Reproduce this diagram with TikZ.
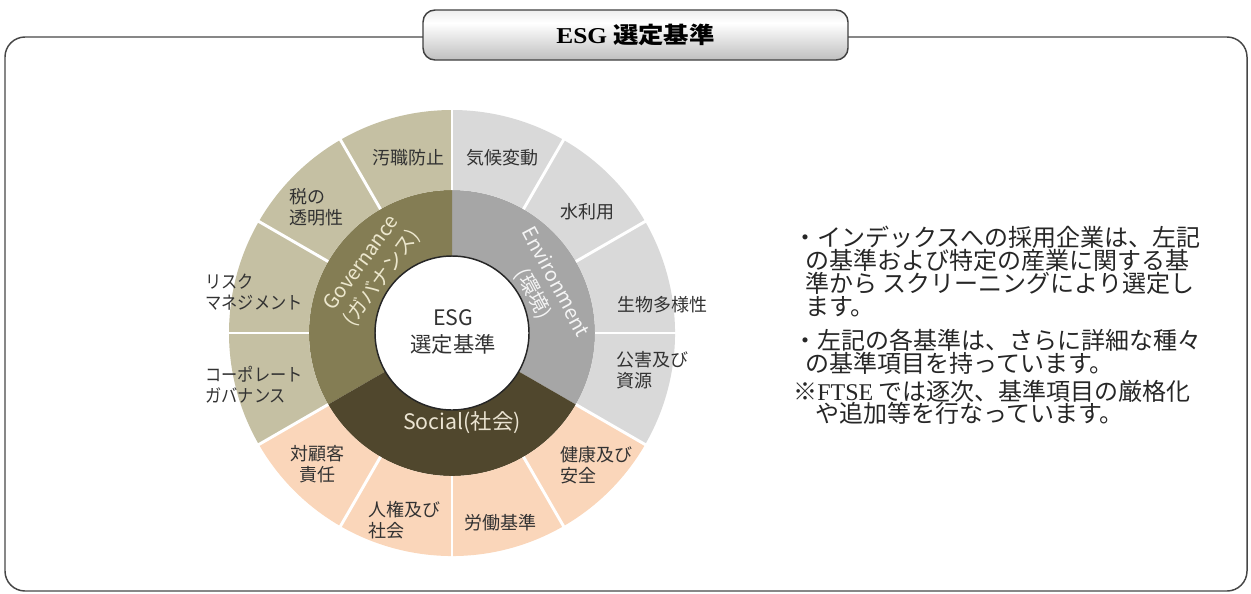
\documentclass[tikz,border=0pt]{standalone}
\usepackage{fontspec}
\setmainfont{Noto Sans CJK JP}
\newfontfamily\serifL{Liberation Serif}
\usetikzlibrary{calc}
\definecolor{framecol}{RGB}{70,70,70}
\definecolor{govM}{RGB}{132,125,84}
\definecolor{govO}{RGB}{197,192,163}
\definecolor{envM}{RGB}{166,166,166}
\definecolor{envO}{RGB}{217,217,217}
\definecolor{socM}{RGB}{80,71,45}
\definecolor{socO}{RGB}{250,214,186}
\definecolor{labcol}{RGB}{50,50,50}
\definecolor{govT}{RGB}{236,231,205}
\definecolor{envT}{RGB}{245,245,245}
\definecolor{socT}{RGB}{235,228,210}
\pgfdeclareverticalshading{titleshade}{100bp}{color(0bp)=(black!55); color(25bp)=(black!25); color(62bp)=(white); color(85bp)=(black!12); color(100bp)=(black!55)}
\tikzset{
  lab/.style={font=\fontsize{13.5pt}{16pt}\selectfont, text=labcol, inner sep=0pt, align=left},
  labc/.style={lab, align=center},
  rtext/.style={font=\fontsize{18pt}{20pt}\selectfont, text=black!85, anchor=west, inner sep=0pt, text height=14pt, text depth=2pt},
  ringtxt/.style={font=\fontsize{15pt}{19pt}\selectfont, inner sep=0pt, align=center},
  divider/.style={white, line width=2.2pt},
}
\begin{document}
\begin{tikzpicture}[x=0.75pt,y=-0.75pt]
\useasboundingbox (0,0) rectangle (1251,593);
% outer frame
\draw[framecol, line width=1.1pt, rounded corners=15pt] (5,37) rectangle (1247,591);
% title
\node[draw=black!75, line width=1.1pt, rounded corners=9pt, shade, shading=titleshade,
      minimum width=318.75pt, minimum height=37.5pt, inner sep=0pt,
      font=\bfseries\fontsize{17pt}{20pt}\selectfont] (title) at (635.5,35)
      {\scalebox{1.12}[1]{{\serifL\bfseries ESG} 選定基準}};
% pie
\begin{scope}[shift={(452,333)}, y=0.75pt]
  % middle ring
  \fill[envM] (-30:77) -- (-30:143) arc[start angle=-30, end angle=90, radius=143] -- (90:77) arc[start angle=90, end angle=-30, radius=77] -- cycle;
  \fill[govM] (90:77) -- (90:143) arc[start angle=90, end angle=210, radius=143] -- (210:77) arc[start angle=210, end angle=90, radius=77] -- cycle;
  \fill[socM] (210:77) -- (210:143) arc[start angle=210, end angle=330, radius=143] -- (330:77) arc[start angle=330, end angle=210, radius=77] -- cycle;
  % outer ring
  \fill[envO] (-30:143) -- (-30:223) arc[start angle=-30, end angle=90, radius=223] -- (90:143) arc[start angle=90, end angle=-30, radius=143] -- cycle;
  \fill[govO] (90:143) -- (90:223) arc[start angle=90, end angle=210, radius=223] -- (210:143) arc[start angle=210, end angle=90, radius=143] -- cycle;
  \fill[socO] (210:143) -- (210:223) arc[start angle=210, end angle=330, radius=223] -- (330:143) arc[start angle=330, end angle=210, radius=143] -- cycle;
  \foreach \a in {0,30,...,330} \draw[divider] (\a:143) -- (\a:225);
  % centre
  \draw[fill=white, draw=black!85, line width=1.1pt] (0,0) circle[radius=77];
  \node[font=\fontsize{16pt}{20pt}\selectfont, text=labcol, align=center, inner sep=0pt] (centre) at (1,1) {ESG\\選定基準};
  \node[ringtxt, text=govT, rotate=54] (gov) at (142:101) {Governance\\(ガバナンス)};
  \node[ringtxt, text=envT, rotate=-62] (env) at (26:102) {Environment\\(環境)};
\end{scope}
\node[font=\fontsize{16pt}{20pt}\selectfont, text=socT, inner sep=0pt] (soc) at (462,423) {Social(社会)};
% outer labels
\node[lab] (l1) at (408,158) {汚職防止};
\node[lab] (l2) at (502,158) {気候変動};
\node[lab] (l3) at (587,212) {水利用};
\node[lab] (l4) at (662,305) {生物多様性};
\node[lab] (l5) at (652,370) {公害及び\\資源};
\node[lab] (l6) at (596,465) {健康及び\\安全};
\node[lab] (l7) at (500,523) {労働基準};
\node[lab] (l8) at (404,520) {人権及び\\社会};
\node[labc] (l9) at (317,464) {対顧客\\責任};
\node[lab, xscale=0.9] (l10) at (254,385) {コーポレート\\ガバナンス};
\node[lab, xscale=0.9] (l11) at (254,292) {リスク\\マネジメント};
\node[lab] (l12) at (316,207) {税の\\透明性};
% right text
\node[rtext] (t1) at (793,238) {・インデックスへの採用企業は、左記};
\node[rtext] (t2) at (805,261) {の基準および特定の産業に関する基};
\node[rtext] (t3) at (805,284) {準から スクリーニングにより選定し};
\node[rtext] (t4) at (805,307) {ます。};
\node[rtext] (t5) at (793,341) {・左記の各基準は、さらに詳細な種々};
\node[rtext] (t6) at (805,364) {の基準項目を持っています。};
\node[rtext] (t7) at (793,392) {※{\serifL FTSE} では逐次、基準項目の厳格化};
\node[rtext] (t8) at (815,414) {や追加等を行なっています。};
\end{tikzpicture}
\end{document}
